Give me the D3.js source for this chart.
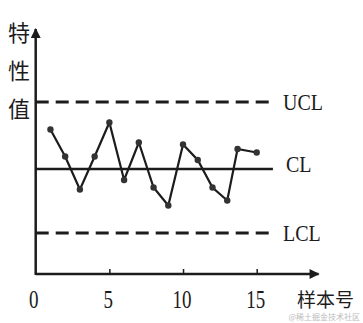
<!DOCTYPE html>
<html>
<head>
<meta charset="utf-8">
<script src="https://cdn.jsdelivr.net/npm/d3@7"></script>
<style>
    html, body { margin: 0; padding: 0; background: #fff; }
    svg { display: block; }
</style>
</head>
<body>
<div id="chart"></div>
<script>
const samples = [1, 2, 3, 4, 5, 6, 7, 8, 9, 10, 11, 12, 13, 13.7, 15];
const values = [28.9, 23.5, 16.9, 23.5, 30.3, 18.8, 26.3, 17.3, 13.7, 25.9, 22.8, 17.3, 14.7, 25.0, 24.3];

// control limits
const limitNames = ['UCL', 'CL', 'LCL'];
const limitValues = [34.4, 21, 8.2];

const xTicks = [0, 5, 10, 15];
const yLabel = ['特', '性', '值'];
const xLabel = '样本号';

const width = 363, height = 323;
const ink = '#1c1c1c';

const svg = d3.select('#chart')
    .append('svg')
    .attr('width', width)
    .attr('height', height);

// scales
const x = d3.scaleLinear().domain([0, 15]).range([35.7, 256.7]);
const y = d3.scaleLinear().domain([0, 50]).range([274, 24]);

// arrow marker
const defs = svg.append('defs');
defs.append('marker')
    .attr('id', 'arrow')
    .attr('viewBox', '0 0 10 10')
    .attr('refX', 9)
    .attr('refY', 5)
    .attr('markerWidth', 5)
    .attr('markerHeight', 4)
    .attr('markerUnits', 'strokeWidth')
    .attr('orient', 'auto')
    .append('path')
    .attr('d', 'M0,0 L10,5 L0,10 Z')
    .attr('fill', ink);

// x axis with inward ticks
const xAxis = svg.append('g')
    .attr('transform', `translate(0, ${y(0)})`)
    .call(d3.axisBottom(x)
        .tickValues(xTicks.filter(d => d > 0))
        .tickSizeInner(-5)
        .tickSizeOuter(0)
        .tickFormat(''));
xAxis.select('.domain').remove();
xAxis.selectAll('.tick line').attr('stroke', ink).attr('stroke-width', 1.5);

svg.append('line')
    .attr('x1', x(0)).attr('y1', y(0))
    .attr('x2', x(19.2)).attr('y2', y(0))
    .attr('stroke', ink)
    .attr('stroke-width', 2.5)
    .attr('marker-end', 'url(#arrow)');

// y axis
svg.append('line')
    .attr('x1', x(0)).attr('y1', y(0) + 1)
    .attr('x2', x(0)).attr('y2', y(49))
    .attr('stroke', ink)
    .attr('stroke-width', 2.5)
    .attr('marker-end', 'url(#arrow)');

// tick labels (the scan is stretched vertically)
svg.selectAll('.x-tick-label')
    .data(xTicks)
    .enter()
    .append('text')
    .attr('class', 'x-tick-label')
    .attr('transform', d => `translate(${x(d) - (d === 0 ? 2 : 1)}, 308) scale(1, 1.3)`)
    .attr('text-anchor', 'middle')
    .style('font-family', '"Liberation Serif", "Times New Roman", serif')
    .style('font-size', '19px')
    .style('fill', ink)
    .text(d => d);

// control limit lines
const limits = limitNames.map((name, i) => ({ name: name, value: limitValues[i] }));

svg.selectAll('.limit')
    .data(limits)
    .enter()
    .append('line')
    .attr('class', 'limit')
    .attr('x1', x(0))
    .attr('x2', x(16.1))
    .attr('y1', d => y(d.value))
    .attr('y2', d => y(d.value))
    .attr('stroke', ink)
    .attr('stroke-width', d => d.name === 'CL' ? 2.5 : 3)
    .attr('stroke-dasharray', d => d.name === 'CL' ? null : '13,7');

svg.selectAll('.limit-label')
    .data(limits)
    .enter()
    .append('text')
    .attr('class', 'limit-label')
    .attr('transform', d => `translate(${d.name === 'CL' ? 286 : 283}, ${y(d.value) + (d.name === 'CL' ? 3 : 7.5)}) scale(1, 1.15)`)
    .style('font-family', '"Liberation Serif", "Times New Roman", serif')
    .style('font-size', '20px')
    .style('fill', ink)
    .text(d => d.name);

// data line
const points = samples.map((s, i) => ({ sample: s, value: values[i] }));

svg.append('path')
    .datum(points)
    .attr('fill', 'none')
    .attr('stroke', ink)
    .attr('stroke-width', 2.2)
    .attr('stroke-linejoin', 'miter')
    .attr('d', d3.line().x(d => x(d.sample)).y(d => y(d.value)));

svg.selectAll('.dot')
    .data(points)
    .enter()
    .append('circle')
    .attr('class', 'dot')
    .attr('cx', d => x(d.sample))
    .attr('cy', d => y(d.value))
    .attr('r', 3.2)
    .attr('fill', '#333');

// axis titles
svg.selectAll('.y-title')
    .data(yLabel)
    .enter()
    .append('text')
    .attr('class', 'y-title')
    .attr('x', 19)
    .attr('y', (d, i) => 41 + i * 38)
    .attr('text-anchor', 'middle')
    .style('font-family', '"Noto Sans CJK SC", sans-serif')
    .style('font-size', '22px')
    .style('fill', ink)
    .text(d => d);

svg.append('text')
    .attr('x', 297)
    .attr('y', 307)
    .style('font-family', '"Noto Sans CJK SC", sans-serif')
    .style('font-size', '19px')
    .style('fill', ink)
    .text(xLabel);

// watermark
svg.append('text')
    .attr('x', 360)
    .attr('y', 320)
    .attr('text-anchor', 'end')
    .style('font-family', '"Noto Sans CJK SC", sans-serif')
    .style('font-size', '8px')
    .style('fill', '#bbb')
    .text('@稀土掘金技术社区');
</script>
</body>
</html>
